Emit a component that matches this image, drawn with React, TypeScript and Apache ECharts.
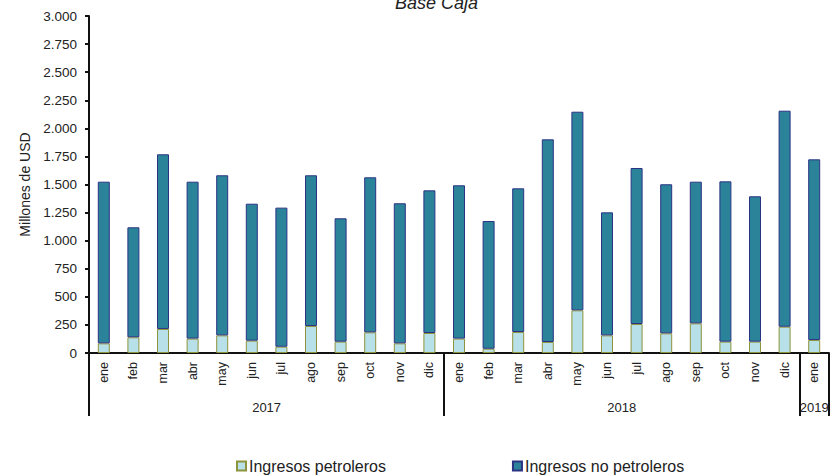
import React, { useEffect, useRef } from "react";
import * as echarts from "echarts";

const months = [
  "ene", "feb", "mar", "abr", "may", "jun", "jul", "ago", "sep", "oct", "nov", "dic",
  "ene", "feb", "mar", "abr", "may", "jun", "jul", "ago", "sep", "oct", "nov", "dic",
  "ene",
];
const yearLabels = ["2017", "2018", "2019"];
const yearStarts = [0, 12, 24];
const yearEnds = [12, 24, 25];

const petroleros = [
  86, 140, 214, 128, 157, 110, 56, 240, 101, 184, 86, 178,
  128, 38, 187, 98, 380, 157, 258, 175, 264, 101, 101, 234,
  116,
];
const noPetroleros = [
  1439, 979, 1555, 1397, 1425, 1219, 1238, 1342, 1098, 1380, 1247, 1270,
  1365, 1137, 1279, 1804, 1768, 1095, 1389, 1327, 1261, 1427, 1294, 1923,
  1608,
];

const fmt = (v: number) => String(v).replace(/\B(?=(\d{3})+(?!\d))/g, ".");

export default function App() {
  const ref = useRef<HTMLDivElement>(null);
  useEffect(() => {
    if (!ref.current) return;
    const chart = echarts.init(ref.current, null, { renderer: "svg" });
    const yearMids = yearStarts.map((s, i) => (s + yearEnds[i]) / 2);
    const yearTicks = [...yearStarts, yearEnds[yearEnds.length - 1]];
    chart.setOption({
      animation: false,
      title: {
        text: "Base Caja",
        left: 395,
        top: -6,
        padding: 0,
        textStyle: {
          fontFamily: "Liberation Sans, Arial, sans-serif",
          fontStyle: "italic",
          fontWeight: "normal",
          fontSize: 18,
          color: "#222",
        },
      },
      legend: {
        left: 231,
        top: 453,
        itemGap: 126,
        itemWidth: 9,
        itemHeight: 9,
        icon: "rect",
        textStyle: {
          fontFamily: "Liberation Sans, Arial, sans-serif",
          fontSize: 16,
          color: "#222",
          padding: [0, 0, 0, -2],
        },
        data: ["Ingresos petroleros", "Ingresos no petroleros"],
      },
      grid: { left: 89, right: 6, top: 16, bottom: 123, containLabel: false },
      xAxis: [
        {
          type: "category",
          data: months,
          boundaryGap: true,
          axisLine: { lineStyle: { color: "#111", width: 2 } },
          axisTick: { interval: 0, length: 35, lineStyle: { color: "#111", width: 2 } },
          axisLabel: {
            interval: 0,
            rotate: 90,
            margin: 9,
            fontFamily: "Liberation Sans, Arial, sans-serif",
            fontSize: 12.5,
            color: "#222",
          },
        },
        {
          type: "value",
          min: 0,
          max: 25,
          position: "bottom",
          axisLine: { show: false },
          splitLine: { show: false },
          axisTick: {
            show: true,
            customValues: yearTicks,
            length: 63,
            lineStyle: { color: "#111", width: 2 },
          },
          axisLabel: {
            customValues: yearMids,
            margin: 48,
            fontFamily: "Liberation Sans, Arial, sans-serif",
            fontSize: 13,
            color: "#222",
            formatter: (v: number) => {
              const i = yearMids.indexOf(v);
              return i >= 0 ? yearLabels[i] : "";
            },
          },
        },
      ],
      yAxis: {
        type: "value",
        min: 0,
        max: 3000,
        interval: 250,
        name: "Millones de USD",
        nameLocation: "middle",
        nameGap: 55,
        nameTextStyle: {
          fontFamily: "Liberation Sans, Arial, sans-serif",
          fontSize: 14,
          color: "#222",
        },
        axisLine: { show: true, lineStyle: { color: "#111", width: 2 } },
        axisTick: { show: true, length: 4, lineStyle: { color: "#111", width: 2 } },
        splitLine: { show: false },
        axisLabel: {
          margin: 12,
          fontFamily: "Liberation Sans, Arial, sans-serif",
          fontSize: 13.5,
          color: "#222",
          formatter: (v: number) => fmt(v),
        },
      },
      series: [
        {
          name: "Ingresos petroleros",
          type: "bar",
          stack: "total",
          barWidth: 12,
          data: petroleros,
          itemStyle: { color: "#B8E0E8", borderColor: "#8E943C", borderWidth: 1 },
        },
        {
          name: "Ingresos no petroleros",
          type: "bar",
          stack: "total",
          barWidth: 12,
          data: noPetroleros,
          itemStyle: { color: "#2B8399", borderColor: "#2B3384", borderWidth: 1 },
        },
      ],
    });
    return () => chart.dispose();
  }, []);
  return (
    <div
      ref={ref}
      style={{ position: "fixed", left: 0, top: 0, width: 835, height: 476, background: "#fff" }}
    />
  );
}
